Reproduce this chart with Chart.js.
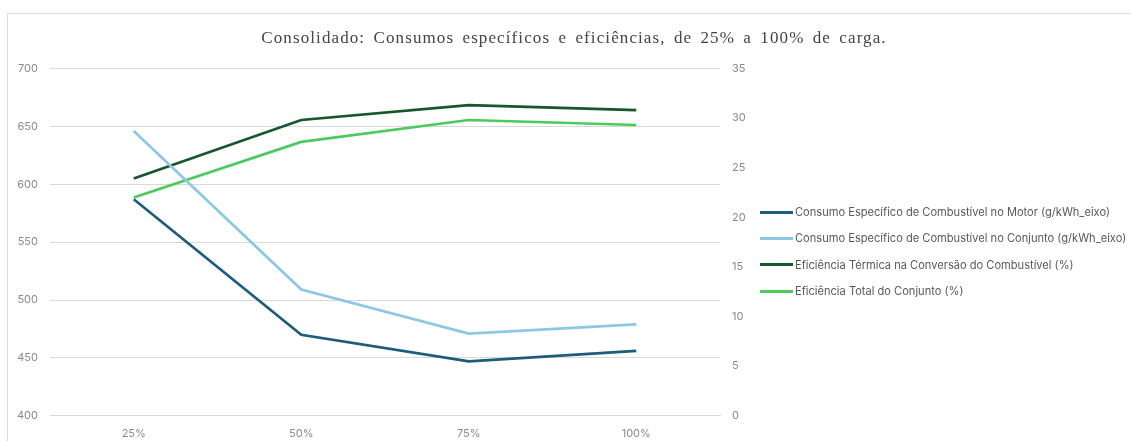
<!DOCTYPE html>
<html>
<head>
<meta charset="utf-8">
<script src="https://cdn.jsdelivr.net/npm/chart.js@4"></script>
<style>
  html, body { margin: 0; padding: 0; background: #fff; overflow: hidden; }
  #wrap { width: 1131px; height: 441px; position: relative; }
  #legend { position: absolute; left: 760px; top: 199px; font-family: Inter, sans-serif; font-size: 11.1px; color: #595959; }
  #legend .item { display: flex; align-items: center; height: 26.3px; white-space: nowrap; }
  #legend .swatch { width: 33px; height: 3px; margin-right: 2px; }
</style>
</head>
<body>
<div id="wrap"><canvas id="chart"></canvas><div id="legend"></div></div>
<script>
// categories (load)
const cargas = ["25%", "50%", "75%", "100%"];

// specific consumption (g/kWh_eixo) - left axis
const consumoMotor = [587, 470, 447, 456];
const consumoConjunto = [646, 509, 471, 479];

// efficiencies (%) - right axis
const eficTermica = [23.9, 29.8, 31.3, 30.8];
const eficTotal = [22.0, 27.6, 29.8, 29.3];

const tickFont = { family: "Inter", size: 11 };
const tickColor = "#8a8a8a";

// light frame around the chart, like the spreadsheet export
const framePlugin = {
  id: "frame",
  beforeDraw(chart) {
    const c = chart.ctx;
    c.save();
    c.strokeStyle = "#dcdcdc";
    c.lineWidth = 1;
    c.strokeRect(7.5, 13.5, chart.width, chart.height);
    c.restore();
  }
};

// title text is spaced out in the original
const spacedTitle = {
  id: "spacedTitle",
  afterInit(chart) {
    const block = chart.titleBlock;
    const orig = block.draw;
    block.draw = function () {
      const c = chart.ctx;
      c.save();
      c.letterSpacing = "1.1px";
      c.wordSpacing = "3px";
      orig.apply(this, arguments);
      c.restore();
    };
  }
};

// html legend, the built-in one gets squeezed next to two y axes
const htmlLegend = {
  id: "htmlLegend",
  afterUpdate(chart) {
    const box = document.getElementById("legend");
    box.innerHTML = "";
    chart.data.datasets.forEach((ds) => {
      let item = document.createElement("div");
      item.className = "item";
      let sw = document.createElement("span");
      sw.className = "swatch";
      sw.style.background = ds.borderColor;
      let txt = document.createElement("span");
      txt.textContent = ds.label;
      item.appendChild(sw);
      item.appendChild(txt);
      box.appendChild(item);
    });
  }
};

let ctx = document.getElementById("chart").getContext("2d");
let chart = new Chart(ctx, {
  type: "line",
  data: {
    labels: cargas,
    datasets: [
      {
        label: "Consumo Específico de Combustível no Motor (g/kWh_eixo)",
        data: consumoMotor,
        borderColor: "#1d5c7c",
        yAxisID: "y"
      },
      {
        label: "Consumo Específico de Combustível no Conjunto (g/kWh_eixo)",
        data: consumoConjunto,
        borderColor: "#8cc8e6",
        yAxisID: "y"
      },
      {
        label: "Eficiência Térmica na Conversão do Combustível (%)",
        data: eficTermica,
        borderColor: "#18562b",
        yAxisID: "y1"
      },
      {
        label: "Eficiência Total do Conjunto (%)",
        data: eficTotal,
        borderColor: "#4ccb5c",
        yAxisID: "y1"
      }
    ]
  },
  options: {
    responsive: true,
    maintainAspectRatio: false,
    animation: false,
    layout: { padding: { left: 17, right: 0, top: 0, bottom: -10 } },
    elements: {
      line: { borderWidth: 2.7, tension: 0 },
      point: { radius: 0 }
    },
    plugins: {
      title: {
        display: true,
        text: "Consolidado: Consumos específicos e eficiências, de 25% a 100% de carga.",
        font: { family: "Liberation Serif", size: 17, weight: "normal" },
        color: "#444444",
        padding: { top: 28, bottom: 20 }
      },
      legend: { display: false },
      tooltip: { enabled: false }
    },
    scales: {
      x: {
        offset: true,
        grid: { display: false, drawTicks: false },
        border: { display: true, color: "#d9d9d9" },
        ticks: { font: tickFont, color: tickColor, padding: 11 }
      },
      y: {
        position: "left",
        min: 400,
        max: 700,
        grid: { color: "#d9d9d9", drawTicks: false },
        border: { display: false },
        ticks: { stepSize: 50, font: tickFont, color: tickColor, padding: 12 },
        afterFit(scale) { scale.width = 33; }
      },
      y1: {
        position: "right",
        min: 0,
        max: 35,
        grid: { display: false, drawTicks: false },
        border: { display: false },
        ticks: { stepSize: 5, font: tickFont, color: tickColor, padding: 12 },
        // leave room on the right for the legend
        afterFit(scale) { scale.width = 411; }
      }
    }
  },
  plugins: [framePlugin, spacedTitle, htmlLegend]
});
</script>
</body>
</html>
